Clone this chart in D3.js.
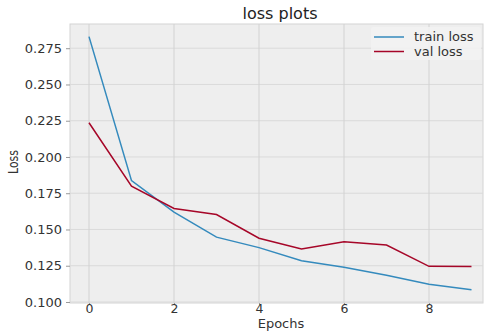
<!DOCTYPE html>
<html>
<head>
<meta charset="utf-8">
<script src="https://cdn.jsdelivr.net/npm/d3@7"></script>
<style>
  body { margin: 0; background: #fff; }
  svg { display: block; }
</style>
</head>
<body>
<div id="chart"></div>
<script>
// loss per epoch
const epochs = [0, 1, 2, 3, 4, 5, 6, 7, 8, 9]
const trainLoss = [0.283, 0.1837, 0.162, 0.1447, 0.1375, 0.1285, 0.124, 0.1185, 0.1122, 0.1085]
const valLoss = [0.2236, 0.1798, 0.1645, 0.1603, 0.144, 0.1365, 0.1415, 0.1393, 0.1246, 0.1245]
const xTicks = [0, 2, 4, 6, 8]
const yTicks = [0.100, 0.125, 0.150, 0.175, 0.200, 0.225, 0.250, 0.275]

const width = 488, height = 331
const plot = { left: 70, right: 483, top: 24, bottom: 303 }

const svg = d3.select('#chart').append('svg')
    .attr('width', width)
    .attr('height', height)
    .attr('font-family', 'DejaVu Sans')

// x ticks at 0 -> 89px, 9 -> 471.5px; plot box a bit wider
const x = d3.scaleLinear()
    .domain([0, 9])
    .range([89, 471.5])

const y = d3.scaleLinear()
    .domain([0.0993, 0.2917])
    .range([plot.bottom, plot.top])

svg.append('rect')
    .attr('x', plot.left)
    .attr('y', plot.top)
    .attr('width', plot.right - plot.left)
    .attr('height', plot.bottom - plot.top)
    .attr('fill', '#eeeeee')
    .attr('stroke', '#d4d4d4')
    .attr('stroke-width', 1)

// grid
svg.append('g')
    .selectAll('line')
    .data(yTicks)
    .join('line')
    .attr('x1', plot.left)
    .attr('x2', plot.right)
    .attr('y1', d => y(d))
    .attr('y2', d => y(d))
    .attr('stroke', '#dadada')
    .attr('stroke-width', 1)

svg.append('g')
    .selectAll('line')
    .data(xTicks)
    .join('line')
    .attr('x1', d => x(d))
    .attr('x2', d => x(d))
    .attr('y1', plot.top)
    .attr('y2', plot.bottom)
    .attr('stroke', '#d2d2d2')
    .attr('stroke-width', 1)

// axes
const xAxis = d3.axisBottom(x).tickValues(xTicks).tickSize(2).tickPadding(0)
svg.append('g')
    .attr('transform', `translate(0,${plot.bottom})`)
    .call(xAxis)
    .call(g => g.select('.domain').remove())
    .call(g => g.selectAll('.tick line').attr('stroke', '#999'))
    .call(g => g.selectAll('.tick text')
        .attr('fill', '#333')
        .attr('font-size', 12.5)
        .attr('font-family', 'DejaVu Sans')
        .attr('dy', '0.62em'))

const yAxis = d3.axisLeft(y).tickValues(yTicks).tickFormat(d3.format('.3f')).tickSize(4).tickPadding(4)
svg.append('g')
    .attr('transform', `translate(${plot.left},0)`)
    .call(yAxis)
    .call(g => g.select('.domain').remove())
    .call(g => g.selectAll('.tick line').attr('stroke', '#999'))
    .call(g => g.selectAll('.tick text').attr('fill', '#333').attr('font-size', 13).attr('font-family', 'DejaVu Sans'))

// lines
const line = d3.line()
    .x((d, i) => x(epochs[i]))
    .y(d => y(d))

svg.append('path')
    .datum(trainLoss)
    .attr('d', line)
    .attr('fill', 'none')
    .attr('stroke', '#348ABD')
    .attr('stroke-width', 1.5)

svg.append('path')
    .datum(valLoss)
    .attr('d', line)
    .attr('fill', 'none')
    .attr('stroke', '#A60628')
    .attr('stroke-width', 1.5)

// title and labels
svg.append('text')
    .attr('x', 280)
    .attr('y', 19)
    .attr('text-anchor', 'middle')
    .attr('font-size', 16)
    .attr('fill', '#222')
    .text('loss plots')

svg.append('text')
    .attr('x', 281)
    .attr('y', 328)
    .attr('text-anchor', 'middle')
    .attr('font-size', 13)
    .attr('fill', '#333')
    .text('Epochs')

svg.append('text')
    .attr('transform', 'translate(18,162) rotate(-90)')
    .attr('text-anchor', 'middle')
    .attr('font-size', 14)
    .attr('fill', '#333')
    .attr('textLength', 24)
    .attr('lengthAdjust', 'spacingAndGlyphs')
    .text('Loss')

// legend
const legend = svg.append('g')
    .attr('class', 'legend')
    .attr('font-size', 13)
    .attr('fill', '#333')

legend.append('rect')
    .attr('x', 371)
    .attr('y', 27)
    .attr('width', 110)
    .attr('height', 33)
    .attr('rx', 2)
    .attr('fill', '#f2f2f2')
    .attr('opacity', 0.9)

const legendItems = [
    { label: 'train loss', color: '#348ABD' },
    { label: 'val loss', color: '#A60628' }
]

legendItems.forEach((item, i) => {
    const ly = 37 + i * 14.5
    legend.append('line')
        .attr('x1', 374)
        .attr('x2', 404)
        .attr('y1', ly)
        .attr('y2', ly)
        .attr('stroke', item.color)
        .attr('stroke-width', 1.5)
    legend.append('text')
        .attr('x', 414)
        .attr('y', ly + 4)
        .text(item.label)
})
</script>
</body>
</html>
